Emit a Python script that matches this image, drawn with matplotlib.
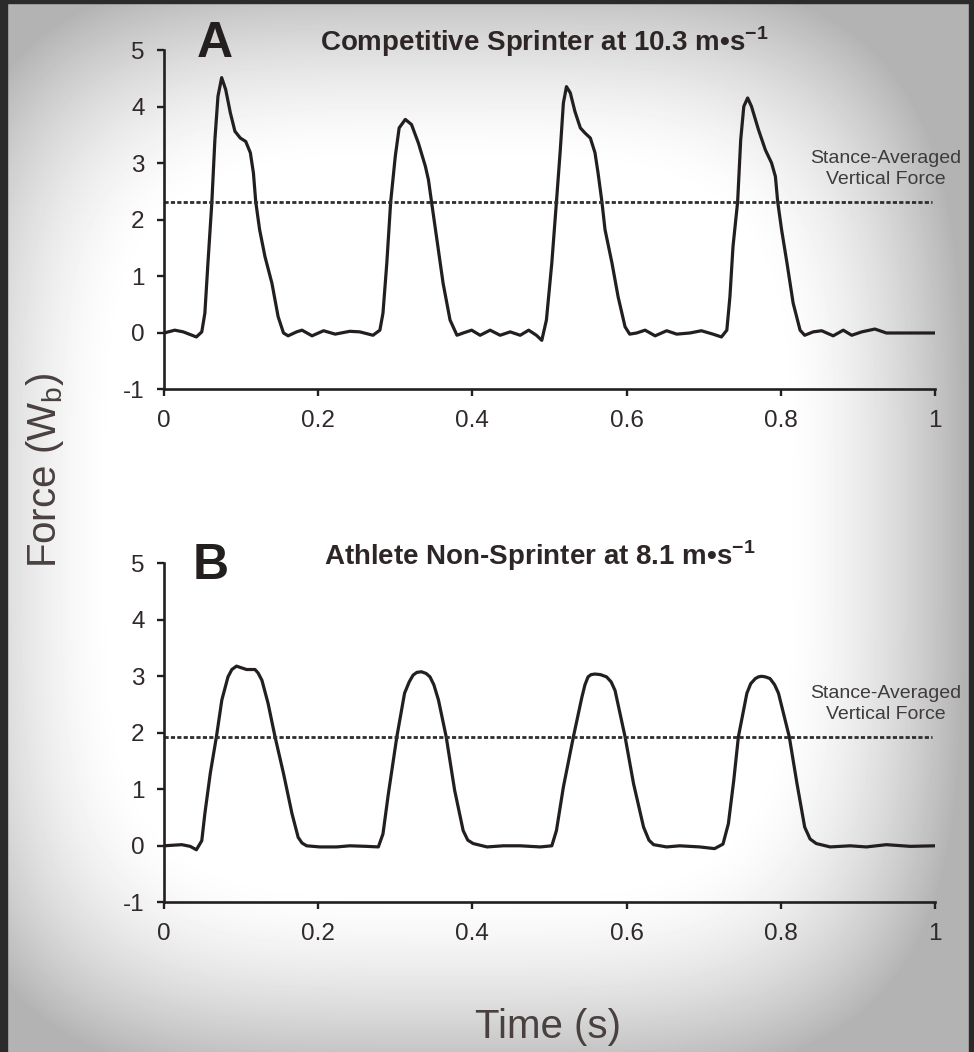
import numpy as np
import matplotlib
matplotlib.use("Agg")
import matplotlib.pyplot as plt
from matplotlib.patches import Rectangle

# ---------------- data ----------------
time_a = [0.000, 0.014, 0.025, 0.042, 0.049, 0.053, 0.057, 0.062, 0.066, 0.070, 0.0748, 0.080, 0.086,
          0.092, 0.099, 0.106, 0.112, 0.116, 0.119, 0.124, 0.131, 0.140, 0.148, 0.155, 0.161, 0.172,
          0.179, 0.192, 0.207, 0.222, 0.241, 0.254, 0.271, 0.280, 0.284, 0.289, 0.294, 0.300, 0.305,
          0.313, 0.321, 0.330, 0.339, 0.343, 0.347, 0.354, 0.362, 0.371, 0.380, 0.388, 0.399, 0.410,
          0.423, 0.436, 0.449, 0.462, 0.473, 0.483, 0.490, 0.496, 0.503, 0.509, 0.514, 0.518, 0.522,
          0.527, 0.533, 0.540, 0.546, 0.553, 0.559, 0.563, 0.568, 0.572, 0.581, 0.589, 0.598, 0.604,
          0.613, 0.624, 0.637, 0.652, 0.665, 0.682, 0.697, 0.712, 0.723, 0.730, 0.734, 0.738, 0.744,
          0.748, 0.752, 0.757, 0.762, 0.771, 0.780, 0.788, 0.793, 0.796, 0.801, 0.808, 0.816, 0.825,
          0.831, 0.842, 0.853, 0.868, 0.881, 0.892, 0.905, 0.922, 0.937, 1.000]
force_a = [0.00, 0.05, 0.02, -0.07, 0.02, 0.35, 1.24, 2.30, 3.42, 4.19, 4.52, 4.31, 3.90,
           3.57, 3.45, 3.39, 3.19, 2.83, 2.32, 1.83, 1.35, 0.88, 0.29, 0.00, -0.05, 0.02,
           0.05, -0.05, 0.04, -0.02, 0.03, 0.02, -0.04, 0.05, 0.35, 1.24, 2.32, 3.13, 3.63,
           3.78, 3.69, 3.36, 2.95, 2.71, 2.32, 1.65, 0.88, 0.23, -0.04, 0.00, 0.05, -0.04,
           0.05, -0.04, 0.02, -0.04, 0.05, -0.04, -0.13, 0.23, 1.24, 2.32, 3.24, 4.07, 4.36,
           4.25, 3.92, 3.63, 3.54, 3.45, 3.19, 2.83, 2.32, 1.83, 1.24, 0.64, 0.11, -0.02,
           0.00, 0.05, -0.05, 0.04, -0.02, 0.00, 0.04, -0.02, -0.07, 0.05, 0.64, 1.53, 2.32,
           3.42, 4.01, 4.16, 4.01, 3.60, 3.24, 3.01, 2.77, 2.32, 1.83, 1.24, 0.53, 0.05,
           -0.04, 0.02, 0.04, -0.05, 0.05, -0.04, 0.02, 0.07, 0.00, 0.00]

time_b = [0.000, 0.023, 0.034, 0.042, 0.049, 0.053, 0.060, 0.068, 0.075, 0.083, 0.088, 0.094,
          0.107, 0.118, 0.122, 0.127, 0.135, 0.144, 0.155, 0.166, 0.174, 0.179, 0.185, 0.202,
          0.224, 0.241, 0.263, 0.278, 0.284, 0.291, 0.302, 0.312, 0.318, 0.323, 0.328, 0.334,
          0.340, 0.345, 0.350, 0.356, 0.366, 0.377, 0.388, 0.394, 0.401, 0.419, 0.440, 0.462,
          0.488, 0.503, 0.509, 0.518, 0.531, 0.542, 0.546, 0.550, 0.554, 0.559, 0.566, 0.574,
          0.580, 0.585, 0.598, 0.609, 0.622, 0.629, 0.635, 0.652, 0.669, 0.695, 0.714, 0.725,
          0.732, 0.739, 0.745, 0.756, 0.761, 0.767, 0.771, 0.775, 0.780, 0.786, 0.792, 0.797,
          0.811, 0.821, 0.831, 0.838, 0.846, 0.864, 0.890, 0.911, 0.937, 0.968, 1.000]
force_b = [0.00, 0.02, -0.01, -0.07, 0.09, 0.57, 1.28, 1.93, 2.58, 2.99, 3.12, 3.18,
           3.12, 3.12, 3.06, 2.93, 2.52, 1.93, 1.28, 0.57, 0.15, 0.05, 0.00, -0.02,
           -0.02, 0.00, -0.01, -0.02, 0.21, 0.92, 1.93, 2.70, 2.90, 3.02, 3.07, 3.08,
           3.05, 2.99, 2.85, 2.58, 1.93, 0.98, 0.27, 0.10, 0.04, -0.02, 0.00, 0.00,
           -0.02, 0.00, 0.27, 1.04, 1.93, 2.63, 2.85, 2.99, 3.03, 3.04, 3.03, 2.99,
           2.90, 2.75, 1.93, 1.10, 0.33, 0.10, 0.02, -0.02, 0.00, -0.02, -0.05, 0.03,
           0.39, 1.16, 1.93, 2.70, 2.87, 2.96, 2.99, 3.00, 2.99, 2.96, 2.85, 2.70,
           1.93, 1.10, 0.33, 0.12, 0.04, -0.02, 0.00, -0.02, 0.02, -0.01, 0.00]

avg_force_a = 2.31
avg_force_b = 1.92

x_ticks = [0, 0.2, 0.4, 0.6, 0.8, 1]
x_tick_labels = ["0", "0.2", "0.4", "0.6", "0.8", "1"]
y_ticks = [-1, 0, 1, 2, 3, 4, 5]
y_tick_labels = ["-1", "0", "1", "2", "3", "4", "5"]

panel_letters = ["A", "B"]
panel_titles = ["Competitive Sprinter at 10.3 m\u2022s$^{\\mathregular{-1}}$",
                "Athlete Non-Sprinter at 8.1 m\u2022s$^{\\mathregular{-1}}$"]
avg_label = "Stance-Averaged\nVertical Force"
y_label = "Force (W$_{\\mathregular{b}}$)"
x_label = "Time (s)"

# ---------------- style ----------------
plt.rcParams['font.family'] = ['Liberation Sans', 'DejaVu Sans']
plt.rcParams['mathtext.fontset'] = 'custom'
plt.rcParams['mathtext.rm'] = 'Liberation Sans'

W, H = 974, 1052
fig = plt.figure(figsize=(W / 100, H / 100), dpi=100)

# vignette background
yy, xx = np.mgrid[0:H, 0:W]
dx = (xx - W * 0.46) / (W * 0.5)
dy = (yy - H * 0.5) / (H * 0.5)
rr = (np.abs(dx) ** 4 + np.abs(dy) ** 4) ** 0.25
t = np.clip((rr - 0.68) / 0.38, 0, 1)
bg = 1 - 0.30 * t ** 1.6
fig.figimage(bg, xo=0, yo=0, origin='upper', cmap='gray', vmin=0, vmax=1, zorder=0)

# dark frame
frame_col = '#2b2b2b'
for (x0, y0, w, h) in [(0, 0, 7, H), (0, H - 3, W, 3), (W - 5, 0, 5, H)]:
    fig.add_artist(Rectangle((x0 / W, y0 / H), w / W, h / H, transform=fig.transFigure,
                             color=frame_col, zorder=1))

ink = '#231f1f'
txt = '#2f2929'

def fx(px):
    return px / W

def fy(py):
    return 1 - py / H

axes_tops = [50.5, 563.3]
data = [(time_a, force_a, avg_force_a), (time_b, force_b, avg_force_b)]
axes = []
for i, top in enumerate(axes_tops):
    ax = fig.add_axes([fx(164), fy(top + 339), 771 / W, 339 / H])
    ax.set_zorder(3)
    ax.set_facecolor('none')
    t_, f_, avg = data[i]
    ax.plot(t_, f_, color=ink, lw=2.3, solid_joinstyle='round', solid_capstyle='round')
    ax.plot([0, 0.996], [avg, avg], color='#2e2e2e', lw=2.0, linestyle=(0, (1.5, 0.8)))
    ax.set_xlim(0, 1)
    ax.set_ylim(-1, 5)
    ax.set_xticks(x_ticks)
    ax.set_xticklabels(x_tick_labels)
    ax.set_yticks(y_ticks)
    ax.set_yticklabels(y_tick_labels)
    for s in ['top', 'right']:
        ax.spines[s].set_visible(False)
    for s in ['left', 'bottom']:
        ax.spines[s].set_linewidth(1.9)
        ax.spines[s].set_color(ink)
    ax.tick_params(direction='out', length=5, width=1.7, color=ink,
                   labelsize=17.5, labelcolor=txt)
    ax.tick_params(axis='x', pad=10)
    ax.tick_params(axis='y', pad=9)
    axes.append(ax)

# panel letters and titles
fig.text(fx(215), fy(44), panel_letters[0], fontsize=36, fontweight='bold', color=ink,
         ha='center', va='center', zorder=4)
fig.text(fx(211), fy(566), panel_letters[1], fontsize=36, fontweight='bold', color=ink,
         ha='center', va='center', zorder=4)
fig.text(fx(544), fy(42), panel_titles[0], fontsize=20, fontweight='bold', color='#2e2626',
         ha='center', va='center', zorder=4)
fig.text(fx(540), fy(556), panel_titles[1], fontsize=20, fontweight='bold', color='#2e2626',
         ha='center', va='center', zorder=4)

# stance-averaged labels
fig.text(fx(886), fy(169), avg_label, fontsize=14, color='#3f3b3b', ha='center',
         va='center', linespacing=1.3, zorder=4)
fig.text(fx(886), fy(704), avg_label, fontsize=14, color='#3f3b3b', ha='center',
         va='center', linespacing=1.3, zorder=4)

# axis labels
fig.text(fx(45), fy(470), y_label, fontsize=29, color='#4a4040', rotation=90,
         ha='center', va='center', zorder=4)
fig.text(fx(548), fy(1027), x_label, fontsize=29, color='#4a4040', ha='center', va='center',
         zorder=4)

fig.savefig('out.png', dpi=100)
